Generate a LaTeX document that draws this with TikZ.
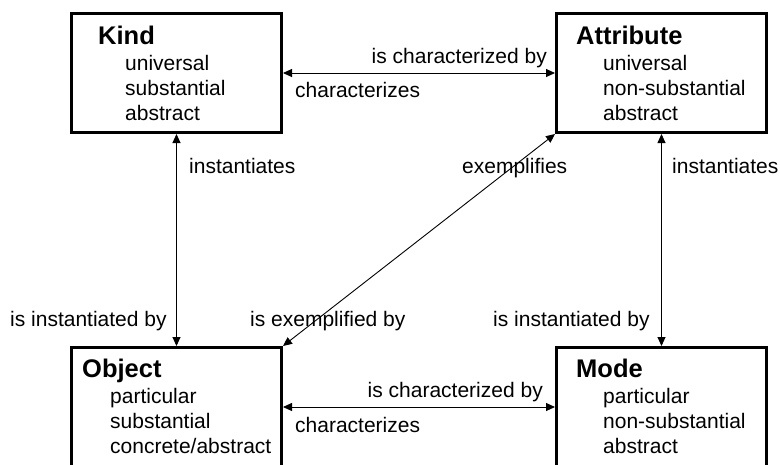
\documentclass[tikz,border=0pt]{standalone}
\usepackage{fontspec}
\setmainfont{Liberation Sans}
\usetikzlibrary{arrows.meta,positioning}

\begin{document}
\begin{tikzpicture}[x=1pt,y=-1pt]
	\tikzstyle{Category} = [rectangle, draw, line width=3pt, minimum width=210pt, minimum height=119pt, inner sep=0pt]
	\tikzstyle{Title}    = [anchor=base west, inner sep=0pt, font=\fontsize{25.5}{30}\selectfont\bfseries]
	\tikzstyle{Feature}  = [anchor=base west, inner sep=0pt, font=\fontsize{21}{25}\selectfont]
	\tikzstyle{Role}     = [inner sep=0pt, font=\fontsize{21}{25}\selectfont]
	\tikzstyle{Rel}      = [{Triangle[length=9pt,width=8pt]}-{Triangle[length=9pt,width=8pt]}, line width=0.9pt]

	\clip (0,0) rectangle (780,464);

	% the four categories
	\node (kind) at (176.5,73) [Category] {};
	\node (attribute) at (661.5,73) [Category] {};
	\node (object) at (176.5,407) [Category] {};
	\node (mode) at (661.5,407) [Category] {};

	\node (kind-t) at (98,44) [Title] {Kind};
	\node (attribute-t) at (576,44) [Title] {Attribute};
	\node (object-t) at (82,377) [Title] {Object};
	\node (mode-t) at (576,377) [Title] {Mode};

	\foreach \f [count=\i] in {universal, substantial, abstract}
		\node (kind-\i) at (125,45+25*\i) [Feature] {\f};
	\foreach \f [count=\i] in {universal, non-substantial, abstract}
		\node (attribute-\i) at (603,45+25*\i) [Feature] {\f};
	\foreach \f [count=\i] in {particular, substantial, concrete/abstract}
		\node (object-\i) at (110,378+25*\i) [Feature] {\f};
	\foreach \f [count=\i] in {particular, non-substantial, abstract}
		\node (mode-\i) at (603,378+25*\i) [Feature] {\f};

	% relations
	\draw [Rel] (kind) -- (attribute);
	\draw [Rel] (kind) -- (object);
	\draw [Rel] (attribute) -- (mode);
	\draw [Rel] (object) -- (mode);
	\draw [Rel] (object.north east) -- (attribute.south west);

	% role names
	\node (charby-top) at (547,63) [Role, anchor=base east] {is characterized by};
	\node (char-top) at (295,97) [Role, anchor=base west] {characterizes};
	\node (inst-left) at (189,173) [Role, anchor=base west] {instantiates};
	\node (exemp) at (462,173) [Role, anchor=base west] {exemplifies};
	\node (inst-right) at (672,173) [Role, anchor=base west] {instantiates};
	\node (instby-left) at (10,326) [Role, anchor=base west] {is instantiated by};
	\node (exempby) at (250,326) [Role, anchor=base west] {is exemplified by};
	\node (instby-right) at (493,326) [Role, anchor=base west] {is instantiated by};
	\node (charby-bot) at (543,397) [Role, anchor=base east] {is characterized by};
	\node (char-bot) at (295,432) [Role, anchor=base west] {characterizes};
\end{tikzpicture}
\end{document}
